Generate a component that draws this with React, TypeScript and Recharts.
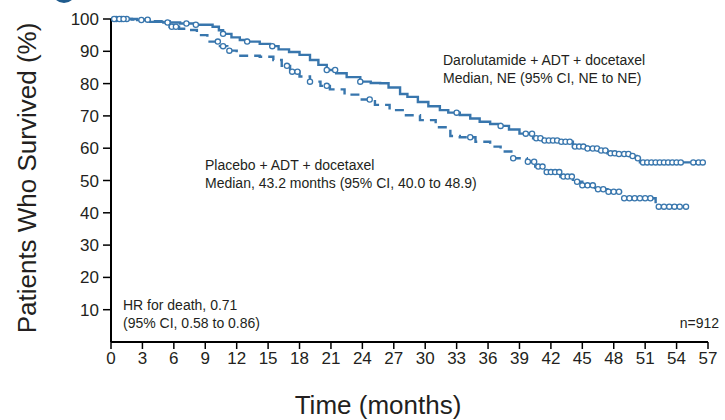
import { ComposedChart, Line, Scatter, XAxis, YAxis } from 'recharts';

// Kaplan-Meier steps: month, survival (%)
const DARO_MONTHS = [0, 1.5, 2.5, 3.7, 5, 6.6, 8, 9.7, 10.3, 10.7, 11.5, 12.3, 13, 14.2, 15.2, 16, 17, 18, 19, 19.8, 20.6, 21.5, 22.5, 23.8, 24.8, 25.7, 26.5, 27.6, 28.3, 29.3, 30.3, 31.4, 32.2, 33.3, 34.3, 35.2, 36.2, 37.2, 38, 39, 40.3, 41.2, 42.9, 44.1, 45.5, 46.5, 47.4, 48.5, 49.5, 50.2, 50.5, 56.5];
const DARO_SURV = [100, 100, 99.7, 99.1, 98.9, 98.6, 98.2, 97.6, 96.5, 95.4, 94.3, 93.5, 93, 92.3, 91.6, 90.6, 89.8, 88.9, 87.3, 85.8, 84.2, 83.2, 82, 80.6, 80.2, 80.1, 78.8, 76.8, 75.9, 74.3, 73, 71.8, 71, 70.3, 69.2, 68.2, 67.5, 66.9, 65.8, 64.5, 63.1, 62.4, 62, 60.5, 59.9, 59.3, 58.4, 58.2, 57.6, 56.9, 55.6, 55.6];

const PBO_MONTHS = [0, 2, 4, 5.6, 6.5, 7.3, 8.2, 9.2, 10.4, 11.1, 12, 14.2, 15.5, 16.3, 17.1, 18, 19, 20, 20.9, 22.3, 23.8, 25.2, 26.6, 28, 29.5, 31, 32.4, 33.3, 34.8, 36.2, 37.2, 38.4, 39.7, 40.5, 41.5, 42.9, 44.1, 45, 46.2, 47.4, 48.9, 51.8, 52, 55];
const PBO_SURV = [100, 99.8, 99.3, 97.6, 97, 96.6, 95, 93, 91.6, 90.2, 88.6, 88.3, 87.3, 85.5, 83.7, 82.2, 80.6, 79.3, 78.2, 76.6, 75.1, 73.4, 71.8, 70.2, 68.7, 66.5, 63.8, 63.4, 62, 60.5, 59, 56.9, 55.8, 54.3, 52.6, 51.2, 49.6, 48.5, 47.3, 46.5, 44.5, 44.5, 41.9, 41.9];

// censoring times (months)
const DARO_CENSOR = [0.3, 0.8, 1.2, 2.9, 5.4, 7.2, 8.1, 10.7, 13, 15.4, 20.6, 21.4, 23.8, 33, 37.2, 39.6, 40.2, 40.6, 41, 41.4, 41.8, 42.2, 42.6, 43, 43.4, 43.8, 44.3, 44.7, 45.1, 45.5, 46, 46.4, 46.8, 47.2, 47.7, 48.1, 48.5, 49, 49.4, 49.8, 50.3, 50.8, 51.2, 51.6, 52, 52.4, 52.8, 53.2, 53.6, 54, 54.4, 55.6, 56.1, 56.5];
const PBO_CENSOR = [0.5, 1, 1.5, 3.5, 5.8, 6.2, 10.2, 10.7, 11.3, 16.8, 17.3, 17.8, 19, 20.6, 24.7, 34.3, 38.4, 39.8, 40.4, 40.8, 41.2, 41.6, 42, 42.4, 42.8, 43.2, 43.6, 44, 44.5, 45, 45.5, 46, 46.5, 47, 47.5, 48, 48.5, 49, 49.5, 50, 50.5, 51, 51.5, 52.3, 52.8, 53.3, 53.8, 54.3, 54.9];

const X_TICKS = [0, 3, 6, 9, 12, 15, 18, 21, 24, 27, 30, 33, 36, 39, 42, 45, 48, 51, 54, 57];
const Y_TICKS = [10, 20, 30, 40, 50, 60, 70, 80, 90, 100];

const BLUE = '#3876ad';
const SANS = "'Liberation Sans', Arial, sans-serif";

const toRows = (months: number[], surv: number[]) => months.map((m, i) => ({ m, v: surv[i] }));

// survival value at a censoring time = value of the step in force
const censorRows = (months: number[], surv: number[], times: number[]) =>
  times.map((t) => {
    let v = surv[0];
    months.forEach((m, i) => {
      if (m <= t) v = surv[i];
    });
    return { m: t, v };
  });

const CensorMark = (props: any) => (
  <circle cx={props.cx} cy={props.cy} r={2.6} fill="#fff" stroke={BLUE} strokeWidth={1.3} />
);

const textStyle: React.CSSProperties = {
  position: 'absolute',
  fontFamily: SANS,
  fontSize: 14,
  color: '#231f20',
  lineHeight: '18px',
  whiteSpace: 'nowrap',
};

const axisTitle: React.CSSProperties = {
  position: 'absolute',
  fontFamily: SANS,
  fontSize: 26,
  color: '#231f20',
  whiteSpace: 'nowrap',
};

export default function App() {
  const daro = toRows(DARO_MONTHS, DARO_SURV);
  const pbo = toRows(PBO_MONTHS, PBO_SURV);
  const daroCens = censorRows(DARO_MONTHS, DARO_SURV, DARO_CENSOR);
  const pboCens = censorRows(PBO_MONTHS, PBO_SURV, PBO_CENSOR);

  return (
    <div style={{ position: 'absolute', left: 0, top: 0, width: 725, height: 420, background: '#fff', overflow: 'hidden' }}>
      <div style={{ position: 'absolute', left: 52, top: -21, width: 24, height: 24, borderRadius: '50%', background: '#1f5b8d' }} />
      <ComposedChart width={725} height={420} margin={{ top: 19, right: 17, bottom: 18, left: 51 }}>
        <XAxis
          dataKey="m"
          type="number"
          domain={[0, 57]}
          ticks={X_TICKS}
          interval={0}
          height={60}
          axisLine={{ stroke: '#000', strokeWidth: 2 }}
          tickLine={{ stroke: '#000', strokeWidth: 1.5 }}
          tickSize={7}
          tickMargin={3}
          tick={{ fill: '#231f20', fontSize: 17, fontFamily: SANS }}
        />
        <YAxis
          type="number"
          domain={[0, 100]}
          ticks={Y_TICKS}
          interval={0}
          width={60}
          axisLine={{ stroke: '#000', strokeWidth: 2 }}
          tickLine={{ stroke: '#000', strokeWidth: 1.5 }}
          tickSize={8}
          tickMargin={4}
          tick={{ fill: '#231f20', fontSize: 17, fontFamily: SANS }}
        />
        <Line
          data={pbo}
          dataKey="v"
          type="stepAfter"
          stroke={BLUE}
          strokeWidth={2.4}
          strokeDasharray="9 6"
          dot={false}
          isAnimationActive={false}
        />
        <Line
          data={daro}
          dataKey="v"
          type="stepAfter"
          stroke={BLUE}
          strokeWidth={2.4}
          dot={false}
          isAnimationActive={false}
        />
        <Scatter data={pboCens} dataKey="v" shape={CensorMark} isAnimationActive={false} />
        <Scatter data={daroCens} dataKey="v" shape={CensorMark} isAnimationActive={false} />
      </ComposedChart>

      <div style={{ ...axisTitle, left: 27, top: 178, transform: 'translate(-50%, -50%) rotate(-90deg)' }}>
        Patients Who Survived (%)
      </div>
      <div style={{ ...axisTitle, left: 378, top: 405, transform: 'translate(-50%, -50%)' }}>
        Time (months)
      </div>

      <div style={{ ...textStyle, left: 443, top: 51 }}>
        Darolutamide + ADT + docetaxel
        <br />
        Median, NE (95% CI, NE to NE)
      </div>
      <div style={{ ...textStyle, left: 205, top: 156 }}>
        Placebo + ADT + docetaxel
        <br />
        Median, 43.2 months (95% CI, 40.0 to 48.9)
      </div>
      <div style={{ ...textStyle, left: 123, top: 296 }}>
        HR for death, 0.71
        <br />
        (95% CI, 0.58 to 0.86)
      </div>
      <div style={{ ...textStyle, right: 6, top: 314 }}>n=912</div>
    </div>
  );
}
